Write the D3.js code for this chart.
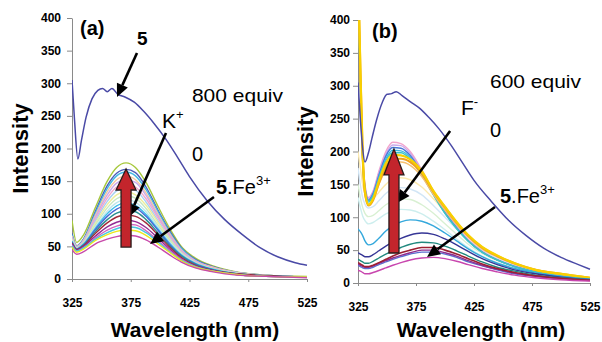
<!DOCTYPE html>
<html>
<head>
<meta charset="utf-8">
<script src="https://cdn.jsdelivr.net/npm/d3@7"></script>
<style>
  body { margin: 0; background: #fff; }
  svg { display: block; font-family: "Liberation Sans", Arial, sans-serif; }
</style>
</head>
<body>
<svg id="chart" width="602" height="342"></svg>
<script>
// tick values
var xTicks = [325, 375, 425, 475, 525];
var yTicks = [0, 50, 100, 150, 200, 250, 300, 350, 400];

// panel (a): free receptor 5
var wl5A = [325, 327, 330, 333, 337, 342, 347, 351, 355, 359, 364, 370, 378, 386, 395, 405, 415, 425, 440, 455, 470, 485, 500, 515, 525];
var free5A = [305, 248, 184, 212, 248, 276, 289, 292, 287, 292, 283, 279, 271, 257, 238, 214, 186, 157, 120, 91, 68, 48, 34, 25, 21];

// panel (a): 5.Fe3+ titrated with K+ (0 -> 800 equiv)
var wlA = [325, 329, 335, 345, 355, 363, 371, 379, 388, 398, 408, 418, 430, 445, 465, 490, 525];
var titrA = [
  [90, 56, 68, 110, 150, 171, 178, 171, 148, 112, 78, 50, 32, 20, 11, 6, 4],
  [70, 51, 62, 104, 143, 162, 168, 163, 141, 106, 74, 48, 30, 19, 10, 6, 3],
  [68, 50, 61, 101, 139, 158, 164, 158, 137, 104, 72, 47, 29, 18, 10, 6, 3],
  [66, 50, 60, 98, 134, 152, 158, 152, 132, 100, 70, 45, 28, 18, 10, 6, 3],
  [64, 49, 59, 95, 129, 147, 152, 148, 128, 97, 68, 44, 28, 17, 10, 5, 3],
  [63, 48, 58, 92, 124, 141, 146, 141, 123, 94, 66, 43, 27, 17, 9, 5, 3],
  [62, 48, 57, 89, 119, 135, 140, 136, 118, 90, 63, 41, 26, 16, 9, 5, 3],
  [61, 47, 56, 86, 114, 129, 134, 129, 113, 87, 61, 40, 25, 16, 9, 5, 3],
  [60, 47, 55, 83, 109, 123, 128, 124, 108, 83, 59, 39, 25, 15, 9, 5, 3],
  [59, 46, 54, 80, 104, 117, 122, 118, 103, 80, 57, 38, 24, 15, 8, 5, 3],
  [58, 46, 54, 78, 100, 112, 117, 113, 99, 77, 55, 37, 24, 15, 8, 5, 3],
  [57, 46, 53, 76, 96, 107, 112, 109, 96, 75, 53, 36, 23, 14, 8, 5, 3],
  [56, 45, 52, 73, 91, 101, 105, 103, 91, 71, 51, 35, 22, 14, 8, 5, 3],
  [55, 45, 51, 70, 86, 95, 98, 96, 86, 68, 49, 33, 21, 13, 8, 5, 3],
  [54, 44, 50, 66, 80, 87, 90, 88, 79, 63, 46, 31, 20, 13, 7, 4, 3],
  [52, 43, 48, 63, 75, 81, 84, 83, 74, 59, 44, 30, 19, 12, 7, 4, 3],
  [51, 43, 48, 61, 71, 77, 80, 79, 71, 57, 42, 29, 19, 12, 7, 4, 3],
  [49, 41, 46, 59, 68, 73, 75, 74, 67, 54, 41, 28, 18, 12, 7, 4, 3],
  [45, 38, 42, 54, 61, 65, 67, 66, 60, 49, 37, 26, 17, 11, 6, 4, 2]
];
var colorsA = ['#a6c83c', '#4c5cb8', '#44b8e4', '#f2c8a0', '#caa8ec', '#f2a6cc', '#a8d0f2', '#eeee9c',
  '#c6e8c0', '#bfe8ea', '#3cbcec', '#4868d6', '#2a9090', '#a02a3a', '#942c94', '#d264c0',
  '#48c8e0', '#ece81c', '#c84aaa'];

// panel (b): free receptor 5
var wl5B = [325, 327, 329, 331, 334, 337, 341, 346, 350, 354, 358, 363, 370, 378, 386, 395, 405, 415, 425, 440, 455, 470, 485, 500, 515, 525];
var free5B = [305, 250, 205, 184, 198, 220, 248, 275, 287, 288, 291, 285, 276, 266, 252, 234, 210, 183, 156, 124, 95, 72, 53, 39, 28, 21];

// panel (b): 5.Fe3+ titrated with F- (0 -> 600 equiv)
var wlB = [325, 327, 329, 331, 334, 338, 343, 349, 355, 362, 370, 380, 390, 400, 410, 420, 432, 445, 460, 478, 500, 525];
var titrB = [
  [200, 175, 150, 135, 126, 128, 138, 150, 158, 160, 157, 146, 128, 108, 88, 70, 53, 40, 29, 20, 13, 8],
  [175, 150, 130, 120, 114, 116, 125, 136, 143, 145, 143, 134, 118, 100, 82, 65, 50, 38, 28, 19, 12, 7],
  [150, 130, 115, 106, 101, 103, 110, 119, 125, 128, 127, 119, 106, 90, 74, 59, 45, 34, 25, 17, 11, 7],
  [130, 115, 102, 95, 90, 92, 98, 105, 109, 112, 111, 105, 94, 81, 67, 54, 41, 31, 23, 16, 10, 6],
  [470, 320, 200, 150, 130, 140, 170, 200, 214, 212, 200, 172, 140, 110, 86, 66, 48, 36, 26, 18, 12, 7],
  [470, 315, 196, 148, 128, 138, 167, 196, 210, 209, 197, 170, 138, 108, 85, 65, 48, 35, 26, 18, 12, 7],
  [465, 310, 192, 145, 126, 136, 164, 193, 206, 205, 194, 167, 136, 107, 84, 64, 47, 35, 25, 17, 11, 6],
  [460, 305, 190, 143, 125, 134, 161, 189, 202, 201, 191, 165, 135, 106, 83, 64, 47, 35, 25, 17, 11, 6],
  [455, 300, 186, 140, 123, 132, 158, 186, 198, 198, 188, 164, 134, 106, 83, 64, 47, 35, 25, 17, 11, 6],
  [470, 320, 190, 135, 120, 127, 150, 173, 184, 184, 179, 162, 135, 111, 89, 70, 52, 40, 29, 20, 13, 8],
  [480, 325, 196, 138, 118, 126, 152, 177, 189, 189, 184, 167, 139, 115, 92, 72, 54, 41, 30, 20, 14, 8],
  [480, 330, 200, 140, 119, 128, 155, 182, 195, 194, 188, 170, 140, 116, 93, 73, 55, 42, 30, 20, 14, 8],
  [82, 78, 72, 64, 58, 60, 68, 79, 87, 93, 96, 94, 87, 76, 64, 52, 40, 30, 22, 15, 10, 6],
  [46, 44, 42, 40, 40, 43, 49, 56, 62, 68, 73, 76, 74, 67, 58, 48, 37, 28, 20, 14, 9, 5],
  [36, 34, 32, 30, 30, 33, 38, 44, 49, 54, 59, 62, 61, 56, 49, 41, 32, 24, 18, 12, 8, 5],
  [27, 25, 23, 22, 22, 24, 28, 32, 36, 40, 44, 47, 47, 44, 39, 32, 26, 20, 14, 10, 6, 4],
  [29, 27, 25, 24, 24, 26, 30, 34, 38, 42, 46, 50, 50, 46, 41, 34, 27, 21, 15, 10, 7, 4],
  [31, 29, 27, 25, 25, 27, 31, 36, 41, 46, 50, 54, 54, 50, 44, 37, 29, 22, 16, 11, 7, 4],
  [19, 18, 16, 14, 14, 16, 19, 23, 27, 31, 35, 38, 39, 37, 33, 28, 22, 17, 12, 8, 5, 3]
];
var colorsB = ['#fbe9b0', '#d2e6f6', '#d8f0d2', '#cdeeee', '#f2a4cc', '#cba8ea', '#4a78d8', '#3cb8e0',
  '#40c4c4', '#f6c070', '#f0a020', '#f8d000', '#34a8dc', '#363696', '#21897f', '#5b6fd0',
  '#8e2c8e', '#9c1f32', '#c846ae'];
var widthsB = [1.4, 1.4, 1.4, 1.4, 1.4, 1.4, 1.4, 1.4, 1.4, 1.6, 2.2, 2.2, 1.4, 1.4, 1.4, 1.4, 1.4, 1.6, 1.4];

var svg = d3.select('#chart');

function arrow(g, x1, y1, x2, y2) {
  var a = Math.atan2(y2 - y1, x2 - x1), len = 13, hw = 6;
  var bx = x2 - len * Math.cos(a), by = y2 - len * Math.sin(a);
  g.append('line').attr('x1', x1).attr('y1', y1).attr('x2', bx).attr('y2', by)
    .attr('stroke', '#000').attr('stroke-width', 2.6);
  g.append('polygon')
    .attr('points', [[x2, y2],
      [bx + hw * Math.sin(a), by - hw * Math.cos(a)],
      [bx - hw * Math.sin(a), by + hw * Math.cos(a)]].map(function (p) { return p.join(','); }).join(' '))
    .attr('fill', '#000');
}

function redArrow(g, cx, yBottom, yHead, yTip) {
  var sw = 5, hw = 10;
  var pts = [[cx - sw, yBottom], [cx - sw, yHead], [cx - hw, yHead], [cx, yTip],
    [cx + hw, yHead], [cx + sw, yHead], [cx + sw, yBottom]];
  g.append('polygon').attr('points', pts.map(function (p) { return p.join(','); }).join(' '))
    .attr('fill', '#c3252c').attr('stroke', '#2a1a1a').attr('stroke-width', 1.3)
    .attr('stroke-linejoin', 'miter');
}

function label(g, x, y, size, parts) {
  var t = g.append('text').attr('x', x).attr('y', y).attr('font-size', size);
  parts.forEach(function (p) {
    var s = t.append('tspan').text(p.t);
    if (p.bold) s.attr('font-weight', 'bold');
    if (p.sup) s.attr('font-size', 13).attr('dy', p.dy);
  });
  return t;
}

function drawPanel(o) {
  var x = d3.scaleLinear().domain([325, 525]).range([o.left, o.right]);
  var y = d3.scaleLinear().domain([0, 400]).range([o.bottom, o.top]);
  var g = svg.append('g');

  g.append('clipPath').attr('id', 'clip' + o.id)
    .append('rect').attr('x', o.left).attr('y', o.top)
    .attr('width', o.right - o.left + 1).attr('height', o.bottom - o.top);

  var ya = g.append('g').attr('transform', 'translate(' + o.left + ',0)')
    .call(d3.axisLeft(y).tickValues(yTicks).tickSize(5).tickPadding(o.pad).tickSizeOuter(0));
  var xa = g.append('g').attr('transform', 'translate(0,' + o.bottom + ')')
    .call(d3.axisBottom(x).tickValues(xTicks).tickSize(3).tickPadding(16).tickSizeOuter(0));
  [ya, xa].forEach(function (a) {
    a.selectAll('path, line').attr('stroke', '#8a8a8a');
    a.selectAll('text').attr('font-size', 12).attr('font-weight', 'bold')
      .attr('font-family', '"Liberation Sans", Arial, sans-serif').attr('fill', '#000');
  });

  var line = d3.line().curve(d3.curveMonotoneX);
  var plot = g.append('g').attr('clip-path', 'url(#clip' + o.id + ')');

  o.series.forEach(function (vals, i) {
    plot.append('path')
      .attr('d', line(vals.map(function (v, j) { return [x(o.wl[j]), y(v)]; })))
      .attr('fill', 'none').attr('stroke', o.colors[i])
      .attr('stroke-width', o.widths ? o.widths[i] : 1.4);
  });
  plot.append('path')
    .attr('d', line(o.free.map(function (v, j) { return [x(o.wlFree[j]), y(v)]; })))
    .attr('fill', 'none').attr('stroke', '#4a4aa6').attr('stroke-width', 1.5);

  g.append('text').attr('transform', 'translate(' + o.yTitleX + ',' + ((o.top + o.bottom) / 2) + ') rotate(-90)')
    .attr('text-anchor', 'middle').attr('font-size', 22).attr('font-weight', 'bold').text('Intensity');
  g.append('text').attr('x', o.xTitleX).attr('y', 337).attr('text-anchor', 'middle')
    .attr('font-size', 21).attr('font-weight', 'bold').text('Wavelength (nm)');

  var n = o.notes;
  label(g, x(n.tag[0]), y(n.tag[1]), 20, [{ t: n.tagText, bold: true }]);
  label(g, x(n.equiv[0]), y(n.equiv[1]), 19, [{ t: n.equivText }]).attr('textLength', 91).attr('lengthAdjust', 'spacingAndGlyphs');
  label(g, x(n.ion[0]), y(n.ion[1]), 21, [{ t: n.ionText[0] }, { t: n.ionText[1], sup: true, dy: -9 }]);
  label(g, x(n.zero[0]), y(n.zero[1]), 20, [{ t: '0' }]);
  label(g, x(n.fe[0]), y(n.fe[1]), 20, [{ t: '5', bold: true }, { t: '.Fe' }, { t: '3+', sup: true, dy: -9 }]);
  if (n.five) label(g, x(n.five[0]), y(n.five[1]), 19, [{ t: '5', bold: true }]);

  n.arrows.forEach(function (a) { arrow(g, x(a[0]), y(a[1]), x(a[2]), y(a[3])); });
  redArrow(g, x(n.red[0]), y(n.red[1]), y(n.red[2]), y(n.red[3]));
}

drawPanel({
  id: 'a', left: 72, right: 307, top: 18, bottom: 279, pad: 6, yTitleX: 28, xTitleX: 195,
  wl: wlA, series: titrA, colors: colorsA, wlFree: wl5A, free: free5A,
  notes: {
    tag: [331.8, 374], tagText: '(a)',
    five: [380.3, 358.6],
    equiv: [427.1, 271.3], equivText: '800 equiv',
    ion: [401.6, 231.4], ionText: ['K', '+'],
    zero: [427.1, 180.8],
    fe: [447.5, 130.3],
    arrows: [[380.3, 346.4, 363.3, 279], [405, 223.8, 373.5, 95], [445.8, 125.7, 391.4, 53.6]],
    red: [371, 49, 136.4, 168.6]
  }
});

drawPanel({
  id: 'b', left: 358, right: 590, top: 20, bottom: 283, pad: 3, yTitleX: 313, xTitleX: 481,
  wl: wlB, series: titrB, colors: colorsB, widths: widthsB, wlFree: wl5B, free: free5B,
  notes: {
    tag: [337.1, 372.6], tagText: '(b)',
    equiv: [438.8, 296.6], equivText: '600 equiv',
    ion: [413.8, 255.5], ionText: ['F', '-'],
    zero: [438.8, 222],
    fe: [447.4, 121.7],
    arrows: [[404.4, 231.2, 358.6, 121.7], [443.1, 115.6, 384.5, 39.5]],
    red: [356, 45.6, 164.3, 203.8]
  }
});
</script>
</body>
</html>
